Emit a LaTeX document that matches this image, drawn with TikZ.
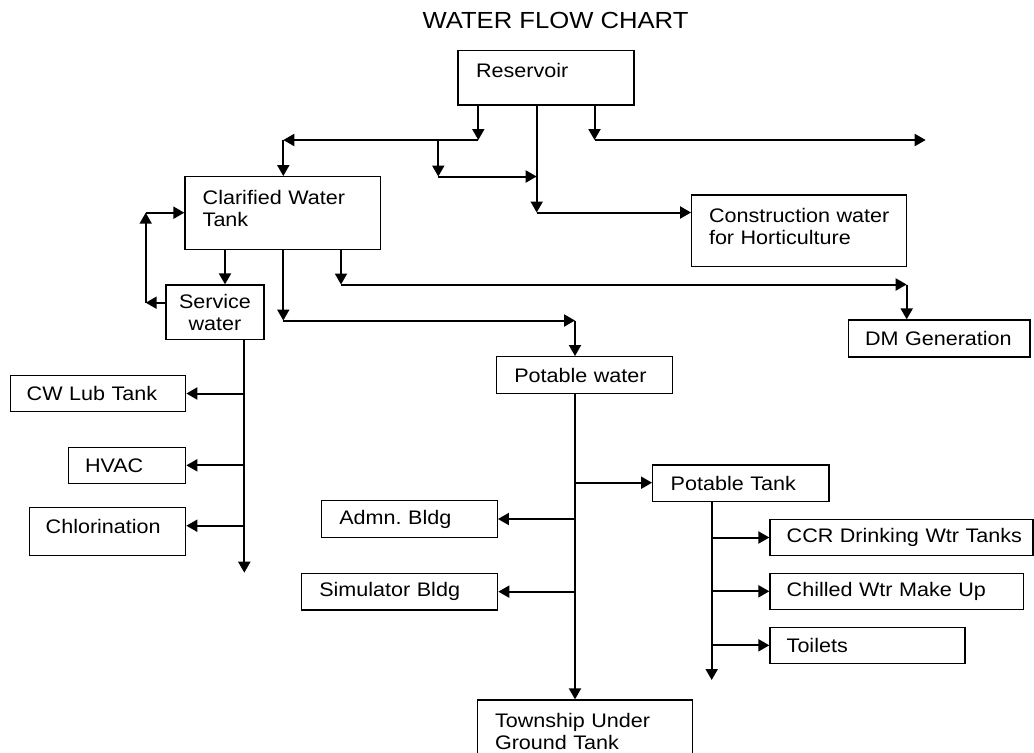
\documentclass[tikz,border=0pt]{standalone}
\usepackage{fontspec}
\setmainfont{Liberation Sans}[FakeStretch=1.1]
\usetikzlibrary{arrows.meta}
\newcommand\ind[1]{\hspace*{#1}}
\newcommand\dn[1]{\rule[-#1]{0pt}{#1}}
\begin{document}
\begin{tikzpicture}[x=0.5pt,y=-0.5pt,
  box/.style={draw, line width=0.65pt, inner xsep=0pt, inner ysep=0pt, align=left,
    font=\fontsize{9.8}{11}\selectfont},
  arr/.style={line width=1pt, -{Triangle[length=5.5pt,width=6pt]}}]
\clip (0,0) rectangle (1034,752);
\node[font=\fontsize{11.65}{14}\selectfont] (title) at (555.5,20) {WATER FLOW CHART};
% boxes
\node[box, minimum width=88pt, minimum height=27.15pt, text width=88pt] (res) at (546,77.85) {\ind{9pt}Reservoir\dn{7.2pt}};
\node[box, minimum width=97.75pt, minimum height=36.3pt, text width=97.75pt] (cwt) at (282.75,213) {\ind{8.85pt}Clarified Water\\\ind{8.85pt}Tank\dn{4.7pt}};
\node[box, minimum width=107.5pt, minimum height=35.85pt, text width=107.5pt] (con) at (799.2,230.85) {\ind{8.65pt}Construction water\\\ind{8.65pt}for Horticulture\dn{4.65pt}};
\node[box, align=center, minimum width=49pt, minimum height=27.15pt, text width=49pt] (sw) at (215,312.15) {Service\\water};
\node[box, minimum width=90.85pt, minimum height=18.5pt, text width=90.85pt] (dm) at (939.15,338.5) {\ind{8.35pt}DM Generation};
\node[box, minimum width=87.5pt, minimum height=17.8pt, text width=87.5pt] (cw) at (98.2,393.5) {\ind{8pt}CW Lub Tank};
\node[box, minimum width=58.7pt, minimum height=18pt, text width=58.7pt] (hvac) at (127,465.3) {\ind{8.35pt}HVAC};
\node[box, minimum width=78.2pt, minimum height=24pt, text width=78.2pt] (chl) at (107.5,531.3) {\ind{8.2pt}Chlorination\dn{4.6pt}};
\node[box, minimum width=88pt, minimum height=18.3pt, text width=88pt] (pw) at (584.7,375) {\ind{8.8pt}Potable water};
\node[box, minimum width=88.15pt, minimum height=18.35pt, text width=88.15pt] (pt) at (740.85,483.35) {\ind{9pt}Potable Tank};
\node[box, minimum width=87.8pt, minimum height=18.3pt, text width=87.8pt] (adm) at (409.5,519) {\ind{8.8pt}Admn.\ Bldg};
\node[box, minimum width=98pt, minimum height=18.35pt, text width=98pt] (sim) at (399.7,591.65) {\ind{8.8pt}Simulator Bldg};
\node[box, minimum width=107.3pt, minimum height=36pt, text width=107.3pt] (twn) at (585,736) {\ind{8.65pt}Township Under\\\ind{8.65pt}Ground Tank\dn{4.7pt}};
\node[box, minimum width=131.5pt, minimum height=18.2pt, text width=131.5pt] (ccr) at (901.5,537.5) {\ind{8.35pt}CCR Drinking Wtr Tanks};
\node[box, minimum width=126.65pt, minimum height=18pt, text width=126.65pt] (chw) at (896.65,591.3) {\ind{8.35pt}Chilled Wtr Make Up};
\node[box, minimum width=97.5pt, minimum height=18pt, text width=97.5pt] (toi) at (867.5,645.3) {\ind{8.35pt}Toilets};
% reservoir outlets
\coordinate (j1) at (478.3,140);
\coordinate (j2) at (283.3,140);
\coordinate (j3) at (438.3,140);
\coordinate (j4) at (438.3,176.5);
\coordinate (j5) at (536.7,176.5);
\coordinate (j6) at (536.7,212.5);
\coordinate (j7) at (594.5,140);
\coordinate (e1) at (925.7,140);
\draw[arr] (res.south -| j1) -- (j1);
\draw[arr] (j1) -- (j2);
\draw[arr] (j2) -- (j2 |- cwt.north);
\draw[arr] (j3) -- (j4);
\draw[arr] (j4) -- (j5);
\draw[arr] (res.south -| j6) -- (j6);
\draw[arr] (j6) -- (j6 -| con.west);
\draw[arr] (res.south -| j7) -- (j7);
\draw[arr] (j7) -- (e1);
% clarified water tank outlets
\coordinate (k1) at (225,300);
\coordinate (k2) at (283.3,320.5);
\coordinate (k3) at (575,320.5);
\coordinate (k4) at (341,284.5);
\coordinate (k5) at (906.7,284.5);
\draw[arr] (cwt.south -| k1) -- (sw.north -| k1);
\draw[arr] (cwt.south -| k2) -- (k2);
\draw[arr] (k2) -- (k3);
\draw[arr] (k3) -- (k3 |- pw.north);
\draw[arr] (cwt.south -| k4) -- (k4);
\draw[arr] (k4) -- (k5);
\draw[arr] (k5) -- (k5 |- dm.north);
% return loop
\coordinate (l1) at (145.7,302.7);
\coordinate (l2) at (145.7,212.7);
\draw[arr] (sw.west |- l1) -- (l1);
\draw[arr] (l1) -- (l2);
\draw[arr] (l2) -- (l2 -| cwt.west);
% service water header
\coordinate (m0) at (244.3,572.7);
\coordinate (m3) at (244.3,525.7);
\draw[arr] (sw.south -| m0) -- (m0);
\draw[arr] (cw.east -| m0) -- (cw.east);
\draw[arr] (hvac.east -| m0) -- (hvac.east);
\draw[arr] (m3) -- (m3 -| chl.east);
% potable water header
\coordinate (p0) at (575,450);
\coordinate (p1) at (575,482.7);
\draw[arr] (pw.south -| p0) -- (twn.north -| p0);
\draw[arr] (p1) -- (p1 -| pt.west);
\draw[arr] (adm.east -| p0) -- (adm.east);
\draw[arr] (sim.east -| p0) -- (sim.east);
% potable tank header
\coordinate (q0) at (711.7,680);
\draw[arr] (pt.south -| q0) -- (q0);
\draw[arr] (ccr.west -| q0) -- (ccr.west);
\draw[arr] (chw.west -| q0) -- (chw.west);
\draw[arr] (toi.west -| q0) -- (toi.west);
\end{tikzpicture}
\end{document}
